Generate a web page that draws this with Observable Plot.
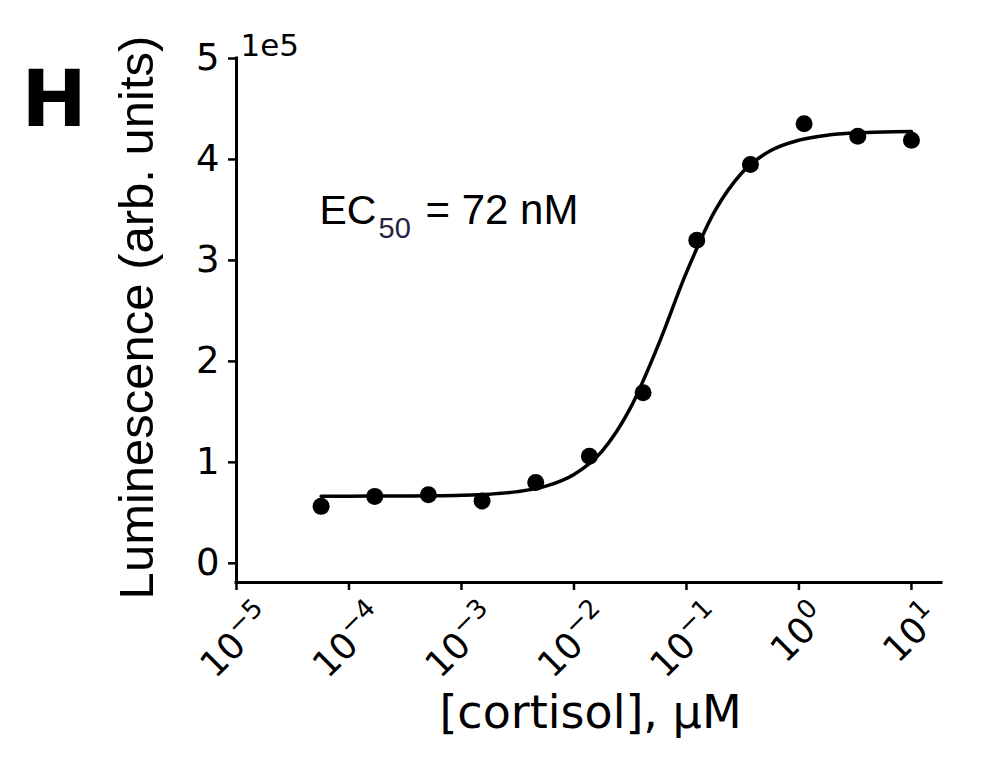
<!DOCTYPE html>
<html>
<head>
<meta charset="utf-8">
<script src="https://cdn.jsdelivr.net/npm/d3@7"></script>
<script src="https://cdn.jsdelivr.net/npm/@observablehq/plot@0.6"></script>
<style>
  html, body { margin: 0; padding: 0; background: #ffffff; }
  #chart { width: 984px; height: 776px; }
</style>
</head>
<body>
<div id="chart"></div>
<script>
// Measured data points: [cortisol] (µM) and luminescence (arb. units)
const concentrations = [5.65e-5, 1.694e-4, 5.08e-4, 1.524e-3, 4.572e-3, 1.372e-2, 4.115e-2, 0.1235, 0.3704, 1.111, 3.333, 10];
const luminescence = [56400, 66300, 68000, 61700, 80000, 106000, 169000, 320000, 395000, 435300, 423000, 419000];

// Fitted dose-response curve
const fitConcentrations = [5.65e-5, 1e-4, 1.78e-4, 3.16e-4, 5.62e-4, 1e-3, 1.78e-3, 3.16e-3, 5.62e-3, 1e-2, 1.78e-2, 3.16e-2, 5.62e-2, 0.1, 0.178, 0.316, 0.562, 1, 1.78, 3.16, 5.62, 10];
const fitLuminescence = [66500, 66500, 66600, 66700, 66900, 67400, 68500, 71000, 76400, 88000, 111200, 153400, 216300, 288100, 348500, 387600, 408800, 419100, 424000, 426200, 427200, 427600];

// Axis ticks
const xTicks = [1e-5, 1e-4, 1e-3, 1e-2, 1e-1, 1, 10];
const xTickBase = "10";
const xTickExponents = ["\u22125", "\u22124", "\u22123", "\u22122", "\u22121", "0", "1"];
const yTicks = [0, 1e5, 2e5, 3e5, 4e5, 5e5];
const yTickLabels = ["0", "1", "2", "3", "4", "5"];

// Text
const panelLetter = "H";
const yOffsetText = "1e5";
const xLabel = "[cortisol], \u00B5M";
const yLabel = "Luminescence (arb. units)";
const ecMain = "EC";
const ecSub = "50";
const ecValue = "= 72 nM";
const ecPosition = {conc: 5.47e-5, lum: 336300};

const xDomain = [1e-5, 18.5];
const yDomain = [-19000, 500000];

const points = concentrations.map((c, i) => ({c, v: luminescence[i]}));
const fit = fitConcentrations.map((c, i) => ({c, v: fitLuminescence[i]}));
const sans = "DejaVu Sans";
const arial = "Liberation Sans";

// rotated (45°) tick labels "10^n", laid out like matplotlib (centred under the tick)
const baseSize = 36, expSize = 26, raise = 15;
const glyphW = ch => (ch === "\u2212" ? 0.838 : 0.636);
const xTickLabelMarks = xTicks.flatMap((t, i) => {
  const B = 1.272 * baseSize;
  const E = [...xTickExponents[i]].reduce((s, c) => s + glyphW(c), 0) * expSize;
  const T = B + E;
  const sx = -0.354 * (T - 24);
  const sy = 15 + 0.707 * (T + 32);
  const ex = sx + 0.707 * (B - raise);
  const ey = sy - 0.707 * (B + raise);
  return [
    Plot.text([t], {x: d => d, y: yDomain[0], text: () => xTickBase, rotate: -45, textAnchor: "start",
      lineAnchor: "bottom", dx: sx, dy: sy, fontSize: baseSize, fontFamily: sans, fill: "#000"}),
    Plot.text([t], {x: d => d, y: yDomain[0], text: () => xTickExponents[i], rotate: -45, textAnchor: "start",
      lineAnchor: "bottom", dx: ex, dy: ey, fontSize: expSize, fontFamily: sans, fill: "#000"})
  ];
});

const chart = Plot.plot({
  width: 984,
  height: 776,
  marginLeft: 236,
  marginRight: 43,
  marginTop: 58,
  marginBottom: 194,
  style: {background: "#ffffff", color: "#000000", fontFamily: sans, overflow: "visible"},
  x: {type: "log", domain: xDomain},
  y: {domain: yDomain},
  marks: [
    // spines
    Plot.ruleX([xDomain[0]], {stroke: "#000", strokeWidth: 3, strokeLinecap: "square"}),
    Plot.ruleY([yDomain[0]], {stroke: "#000", strokeWidth: 3, strokeLinecap: "square"}),
    // ticks
    Plot.axisY({ticks: yTicks, tickFormat: d => yTickLabels[yTicks.indexOf(d)], tickSize: 8, tickPadding: 9,
      strokeWidth: 2.5, fontSize: 37, fontFamily: sans, label: null}),
    Plot.axisX({ticks: xTicks, tickFormat: () => "", tickSize: 8, strokeWidth: 2.5, label: null}),
    ...xTickLabelMarks,
    // fit curve and data
    Plot.line(fit, {x: "c", y: "v", curve: "monotone-x", stroke: "#000", strokeWidth: 3.5}),
    Plot.dot(points, {x: "c", y: "v", r: 8.5, fill: "#000", stroke: "none"}),
    // EC50 annotation
    Plot.text([ecMain], {x: () => ecPosition.conc, y: () => ecPosition.lum, text: d => d, textAnchor: "start",
      lineAnchor: "bottom", fontSize: 41, fontFamily: arial, fill: "#000"}),
    Plot.text([ecSub], {x: () => ecPosition.conc, y: () => ecPosition.lum, text: d => d, textAnchor: "start",
      lineAnchor: "bottom", dx: 59, dy: 14, fontSize: 29, fontFamily: arial, fill: "#2a2140"}),
    Plot.text([ecValue], {x: () => ecPosition.conc, y: () => ecPosition.lum, text: d => d, textAnchor: "start",
      lineAnchor: "bottom", dx: 106, fontSize: 42, fontFamily: arial, fill: "#000"}),
    // labels
    Plot.text([panelLetter], {frameAnchor: "top-left", text: d => d, textAnchor: "start", lineAnchor: "bottom",
      dx: -215, dy: 67, fontSize: 78, fontWeight: "bold", fontFamily: sans, fill: "#000"}),
    Plot.text([yOffsetText], {frameAnchor: "top-left", text: d => d, textAnchor: "start", lineAnchor: "bottom",
      dx: 4, dy: -3, fontSize: 31, fontFamily: sans, fill: "#000"}),
    Plot.text([yLabel], {frameAnchor: "left", text: d => d, rotate: -90, textAnchor: "middle", lineAnchor: "bottom",
      dx: -84, dy: -3, fontSize: 49, fontFamily: arial, fill: "#000"}),
    Plot.text([xLabel], {frameAnchor: "bottom", text: d => d, textAnchor: "middle", lineAnchor: "bottom",
      dx: 1.5, dy: 145, fontSize: 46, fontFamily: sans, fill: "#000"})
  ]
});
document.getElementById("chart").appendChild(chart);
</script>
</body>
</html>
